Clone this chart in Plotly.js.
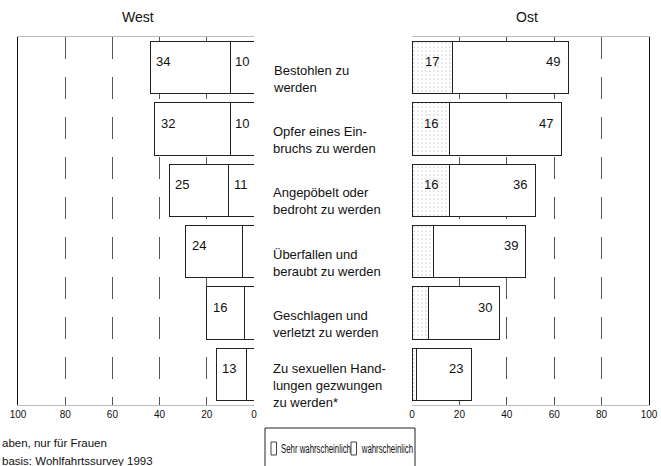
<!DOCTYPE html>
<html>
<head>
<meta charset="utf-8">
<script src="https://cdn.plot.ly/plotly-3.0.1.min.js"></script>
<style>html,body{margin:0;padding:0;background:#fff;}#chart{width:661px;height:466px;}</style>
</head>
<body>
<div id="chart"></div>
<script>
// ---- data ----
const categories = [
  'Bestohlen zu<br>werden',
  'Opfer eines Ein-<br>bruchs zu werden',
  'Angepöbelt oder<br>bedroht zu werden',
  'Überfallen und<br>beraubt zu werden',
  'Geschlagen und<br>verletzt zu werden',
  'Zu sexuellen Hand-<br>lungen gezwungen<br>zu werden*'
];
const westSehr = [10, 10, 11, 5, 4, 3];
const westWahr = [34, 32, 25, 24, 16, 13];
const ostSehr = [17, 16, 16, 9, 7, 2];
const ostWahr = [49, 47, 36, 39, 30, 23];
const tickVals = [0, 20, 40, 60, 80, 100];
const tickText = ['0', '20', '40', '60', '80', '100'];
const seriesNames = ['Sehr wahrscheinlich', 'wahrscheinlich'];
const panelTitles = ['West', 'Ost'];
const footnotes = ['aben, nur für Frauen', 'basis: Wohlfahrtssurvey 1993'];

// ---- geometry helpers (pixel -> paper) ----
const W = 661, H = 466;
const M = {l: 18, r: 12, t: 37, b: 61};
const PW = W - M.l - M.r, PH = H - M.t - M.b;
const px = x => (x - M.l) / PW;
const py = y => (H - M.b - y) / PH;

const font = 'Liberation Sans, Arial, Helvetica, sans-serif';
const lineBlack = {color: '#222', width: 1};

const traces = [
  {type: 'bar', orientation: 'h', name: seriesNames[0], y: categories, x: westSehr,
   xaxis: 'x', yaxis: 'y', marker: {color: '#fff', line: lineBlack}, showlegend: false, hoverinfo: 'x'},
  {type: 'bar', orientation: 'h', name: seriesNames[1], y: categories, x: westWahr,
   xaxis: 'x', yaxis: 'y', marker: {color: '#fff', line: lineBlack}, showlegend: false, hoverinfo: 'x'},
  {type: 'bar', orientation: 'h', name: seriesNames[0], y: categories, x: ostSehr,
   xaxis: 'x2', yaxis: 'y2',
   marker: {color: '#fff', line: lineBlack,
            pattern: {shape: '.', fgcolor: '#d4d4d4', bgcolor: '#fff', size: 4, solidity: 0.15}},
   showlegend: false, hoverinfo: 'x'},
  {type: 'bar', orientation: 'h', name: seriesNames[1], y: categories, x: ostWahr,
   xaxis: 'x2', yaxis: 'y2', marker: {color: '#fff', line: lineBlack}, showlegend: false, hoverinfo: 'x'}
];

const annotations = [];
const valFont = {family: font, size: 13, color: '#111'};
categories.forEach((c, i) => {
  // West
  const wt = westSehr[i] + westWahr[i];
  annotations.push({xref: 'x', yref: 'y', x: wt, y: c, text: String(westWahr[i]), showarrow: false,
    xanchor: 'left', xshift: 4, yshift: 6, font: valFont});
  if (westSehr[i] >= 10) annotations.push({xref: 'x', yref: 'y', x: westSehr[i] / 2, y: c,
    text: String(westSehr[i]), showarrow: false, xanchor: 'center', yshift: 6, font: valFont});
  // Ost
  const ot = ostSehr[i] + ostWahr[i];
  annotations.push({xref: 'x2', yref: 'y2', x: ot, y: c, text: String(ostWahr[i]), showarrow: false,
    xanchor: 'right', xshift: -6, yshift: 6, font: valFont});
  if (ostSehr[i] >= 10) annotations.push({xref: 'x2', yref: 'y2', x: ostSehr[i] / 2, y: c,
    text: String(ostSehr[i]), showarrow: false, xanchor: 'center', yshift: 6, font: valFont});
  // centre labels
  annotations.push({xref: 'paper', yref: 'y', x: px(271), y: c, text: c, showarrow: false,
    xanchor: 'left', yanchor: 'middle', align: 'left', yshift: -11,
    font: {family: font, size: 13, color: '#111'}});
});
// panel titles
annotations.push({xref: 'paper', yref: 'paper', x: px(138), y: py(17), text: panelTitles[0], showarrow: false,
  xanchor: 'center', yanchor: 'middle', font: {family: font, size: 14, color: '#111'}});
annotations.push({xref: 'paper', yref: 'paper', x: px(527), y: py(17), text: panelTitles[1], showarrow: false,
  xanchor: 'center', yanchor: 'middle', font: {family: font, size: 14, color: '#111'}});
// footnotes
annotations.push({xref: 'paper', yref: 'paper', x: px(0), y: py(443), text: footnotes[0], showarrow: false,
  xanchor: 'left', yanchor: 'middle', align: 'left', font: {family: font, size: 11.5, color: '#111'}});
annotations.push({xref: 'paper', yref: 'paper', x: px(0), y: py(461), text: footnotes[1], showarrow: false,
  xanchor: 'left', yanchor: 'middle', align: 'left', font: {family: font, size: 11.5, color: '#111'}});
// legend text (one condensed line; symbol of 2nd entry sits in the gap)
const legendLine = seriesNames[0] + '\u00a0\u00a0\u00a0\u00a0\u00a0' + seriesNames[1];
annotations.push({xref: 'paper', yref: 'paper', x: px(278.5), y: py(449), text: legendLine, showarrow: false,
  xanchor: 'left', yanchor: 'middle', align: 'left', font: {family: font, size: 12.5, color: '#111'}});

const shapes = [
  // legend box (open at bottom)
  {type: 'path', xref: 'paper', yref: 'paper',
   path: `M ${px(265)} ${py(470)} L ${px(265)} ${py(428)} L ${px(415)} ${py(428)} L ${px(415)} ${py(470)}`,
   line: {color: '#222', width: 1}},
  {type: 'rect', xref: 'paper', yref: 'paper', x0: px(271), x1: px(276.5), y0: py(455), y1: py(442),
   line: {color: '#444', width: 1}, fillcolor: '#fff'},
  {type: 'rect', xref: 'paper', yref: 'paper', x0: px(351), x1: px(356.5), y0: py(455), y1: py(442),
   line: {color: '#444', width: 1}, fillcolor: '#fff'}
];

const xCommon = {
  tickvals: tickVals, ticktext: tickText, showgrid: true, gridcolor: '#555', gridwidth: 1,
  griddash: '22px,18px', zeroline: false, ticks: '', showline: true, linecolor: '#bbb', linewidth: 1,
  mirror: true, tickfont: {family: font, size: 10, color: '#111'}, fixedrange: true
};

const layout = {
  width: W, height: H, margin: M, paper_bgcolor: '#fff', plot_bgcolor: '#fff',
  barmode: 'stack', bargap: 0.15, showlegend: false,
  xaxis: Object.assign({}, xCommon, {domain: [0, px(254)], range: [100, 0], anchor: 'y'}),
  xaxis2: Object.assign({}, xCommon, {domain: [px(412), 1], range: [0, 100], anchor: 'y2'}),
  yaxis: {anchor: 'x', range: [5.5, -0.5], showticklabels: false, ticks: '', showgrid: false,
          zeroline: false, showline: true, linecolor: '#111', linewidth: 1, side: 'left', fixedrange: true},
  yaxis2: {anchor: 'x2', range: [5.5, -0.5], showticklabels: false, ticks: '', showgrid: false,
          zeroline: false, showline: true, linecolor: '#111', linewidth: 1, side: 'right', fixedrange: true},
  annotations: annotations, shapes: shapes,
  font: {family: font, color: '#111'}
};

const legendLength = 132;
Plotly.newPlot('chart', traces, layout, {displayModeBar: false, staticPlot: true}).then(gd => {
  gd.querySelectorAll('text.annotation-text').forEach(t => {
    if (t.textContent === legendLine) {
      t.setAttribute('textLength', legendLength);
      t.setAttribute('lengthAdjust', 'spacingAndGlyphs');
      const grp = t.closest('g.annotation-text-g');
      if (grp) grp.querySelectorAll('rect').forEach(r => r.setAttribute('width', legendLength + 4));
    }
  });
});
</script>
</body>
</html>
